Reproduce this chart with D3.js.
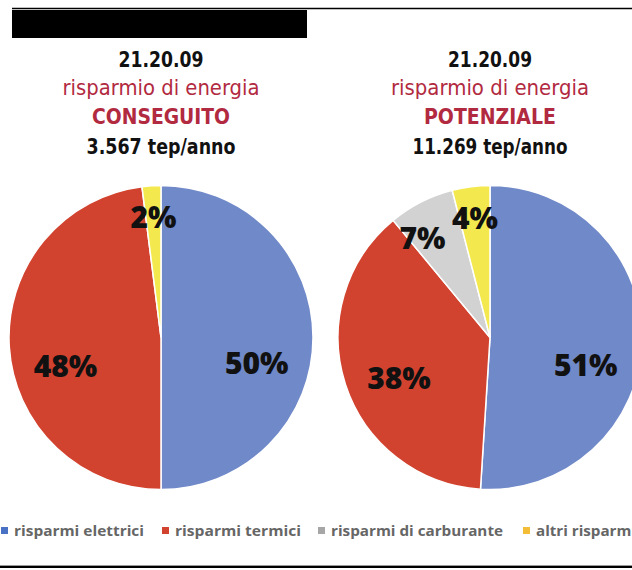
<!DOCTYPE html>
<html><head><meta charset="utf-8">
<script src="https://cdn.jsdelivr.net/npm/d3@7/dist/d3.min.js"></script>
<style>
html,body{margin:0;padding:0;background:#fff;}
svg{display:block;}
</style></head>
<body>
<script>
// ---- data ----
const categories = ["risparmi elettrici", "risparmi termici", "risparmi di carburante", "altri risparmi"];
const pieColors = ["#7089c8", "#d2432f", "#d2d2d2", "#f3e94e"];
const legendColors = ["#4a72c4", "#d2432f", "#a6a6a6", "#f3bd38"];
const conseguitoValues = [50, 48, 0, 2];
const potenzialeValues = [51, 38, 7, 4];
const titleCodes = ["21.20.09", "21.20.09"];
const titleSubs = ["risparmio di energia", "risparmio di energia"];
const titleKinds = ["CONSEGUITO", "POTENZIALE"];
const titleTotals = ["3.567 tep/anno", "11.269 tep/anno"];

const W = 632, H = 570;
const svg = d3.select("body").append("svg").attr("width", W).attr("height", H);

// frame
svg.append("line").attr("x1", 12).attr("x2", W).attr("y1", 8.5).attr("y2", 8.5).attr("stroke", "#000").attr("stroke-width", 1.5);
svg.append("rect").attr("x", 12).attr("y", 10).attr("width", 295).attr("height", 28).attr("fill", "#000");
svg.append("line").attr("x1", 0).attr("x2", W).attr("y1", 567).attr("y2", 567).attr("stroke", "#000").attr("stroke-width", 2);
svg.append("line").attr("x1", 0).attr("x2", W).attr("y1", 565.5).attr("y2", 565.5).attr("stroke", "#999").attr("stroke-width", 1);

const titleFont = "'DejaVu Sans Condensed','DejaVu Sans',sans-serif";
const red = "#b22a3f";
const pies = [
  {cx: 161, values: conseguitoValues, i: 0, lens: [85, 197, 138, 149]},
  {cx: 490, values: potenzialeValues, i: 1, lens: [84, 198, 132, 155]}
];
const cy = 337.5, R = 152;

pies.forEach(p => {
  const g = svg.append("g");
  const lines = [
    {t: titleCodes[p.i], y: 67, w: 700, c: "#111"},
    {t: titleSubs[p.i], y: 95, w: 400, c: red},
    {t: titleKinds[p.i], y: 124, w: 700, c: red},
    {t: titleTotals[p.i], y: 154, w: 700, c: "#111"}
  ];
  lines.forEach((l, k) => {
    g.append("text").attr("x", p.cx).attr("y", l.y).attr("text-anchor", "middle")
      .attr("font-family", titleFont).attr("font-size", 22).attr("font-weight", l.w)
      .attr("textLength", p.lens[k]).attr("lengthAdjust", "spacingAndGlyphs")
      .attr("fill", l.c).text(l.t);
  });

  const pie = d3.pie().sort(null).value(d => d)(p.values);
  const shown = pie.filter(d => d.data > 0);
  const arc = d3.arc().innerRadius(0).outerRadius(R);
  const pg = svg.append("g").attr("transform", `translate(${p.cx},${cy})`);
  pg.selectAll("path").data(shown).join("path")
    .attr("d", arc).attr("fill", d => pieColors[d.index])
    .attr("stroke", "#fff").attr("stroke-width", 1.5);

  // label angles: small slices pushed apart counter-clockwise if crowded
  const minSep = 27 * Math.PI / 180;
  const ang = shown.map(d => (d.startAngle + d.endAngle) / 2);
  for (let k = shown.length - 2; k >= 0; k--) {
    if (shown[k].data < 25 && shown[k + 1].data < 25 && ang[k + 1] - ang[k] < minSep) {
      ang[k] = ang[k + 1] - minSep;
    }
  }
  shown.forEach((d, k) => {
    const big = d.data >= 25;
    const r = big ? R * 0.63 : R * 0.79;
    const x = r * Math.sin(ang[k]);
    let y = -r * Math.cos(ang[k]);
    if (big) y += R * 0.17 - 0.5 * Math.max(y, 0);
    pg.append("text").attr("x", x).attr("y", y).attr("dy", "0.36em")
      .attr("text-anchor", "middle").attr("font-family", "'Open Sans',sans-serif")
      .attr("font-weight", 800).attr("font-size", 30).attr("fill", "#111")
      .text(d.data + "%");
  });
});

// legend
const legendX = [1, 162, 318, 523];
const legendLens = [130, 126, 172, 100];
const lg = svg.append("g");
categories.forEach((c, i) => {
  lg.append("rect").attr("x", legendX[i]).attr("y", 527).attr("width", 7).attr("height", 7).attr("fill", legendColors[i]);
  lg.append("text").attr("x", legendX[i] + 13).attr("y", 536)
    .attr("font-family", "'Open Sans',sans-serif").attr("font-weight", 700).attr("font-size", 14.5)
    .attr("textLength", legendLens[i]).attr("lengthAdjust", "spacingAndGlyphs")
    .attr("fill", "#666").text(c);
});
</script>
</body></html>
